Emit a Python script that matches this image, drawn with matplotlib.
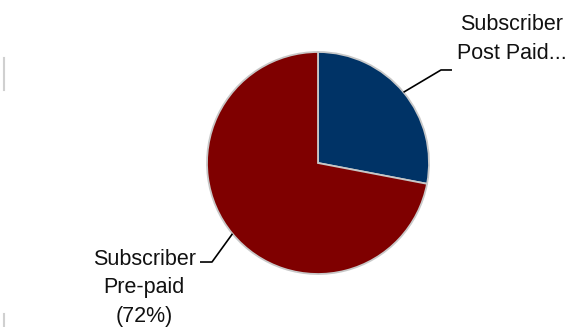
import numpy as np
import matplotlib
matplotlib.use('Agg')
import matplotlib.pyplot as plt

# data
labels = ['Subscriber\nPost Paid...', 'Subscriber\nPre-paid\n(72%)']
shares = [28, 72]
colors = ['#003366', '#7f0000']

plt.rcParams['font.family'] = ['Liberation Sans', 'DejaVu Sans']

W, H = 566, 327
fig = plt.figure(figsize=(W / 100, H / 100), dpi=100)
ax = fig.add_axes([0, 0, 1, 1])

# pie centre / radius in pixels
cx, cy, R = 318, 163, 111

wedges, _ = ax.pie(shares, colors=colors, startangle=90, counterclock=False,
                   radius=1, frame=True,
                   wedgeprops=dict(edgecolor='#c8c8c8', linewidth=1.3))
ax.set_xlim(-cx / R, (W - cx) / R)
ax.set_ylim((cy - H) / R, cy / R)
ax.set_aspect('auto')
ax.axis('off')

# label placement (text centre, elbow, end of leader) in data units
text_pos = [(1.748, 1.117), (-1.565, -1.125)]
elbow = [(1.108, 0.838), (-0.955, -0.892)]
leader_end = [(1.207, 0.838), (-1.063, -0.892)]

for w, lab, tp, el, le in zip(wedges, labels, text_pos, elbow, leader_end):
    mid = np.deg2rad((w.theta1 + w.theta2) / 2)
    p = (np.cos(mid), np.sin(mid))
    ax.plot([p[0], el[0], le[0]], [p[1], el[1], le[1]], color='black', lw=1.2,
            solid_capstyle='butt')
    ax.text(tp[0], tp[1], lab, ha='center', va='center', fontsize=15.5,
            linespacing=1.45, color='#111111')

# faint gridline fragments at left edge
fig.add_artist(plt.Line2D([4 / W, 4 / W], [1 - 58 / H, 1 - 90 / H], color='#d0d0d0', lw=1.5))
fig.add_artist(plt.Line2D([4 / W, 4 / W], [1 - 314 / H, 0], color='#d0d0d0', lw=1.5))

fig.savefig('out.png', dpi=100)
